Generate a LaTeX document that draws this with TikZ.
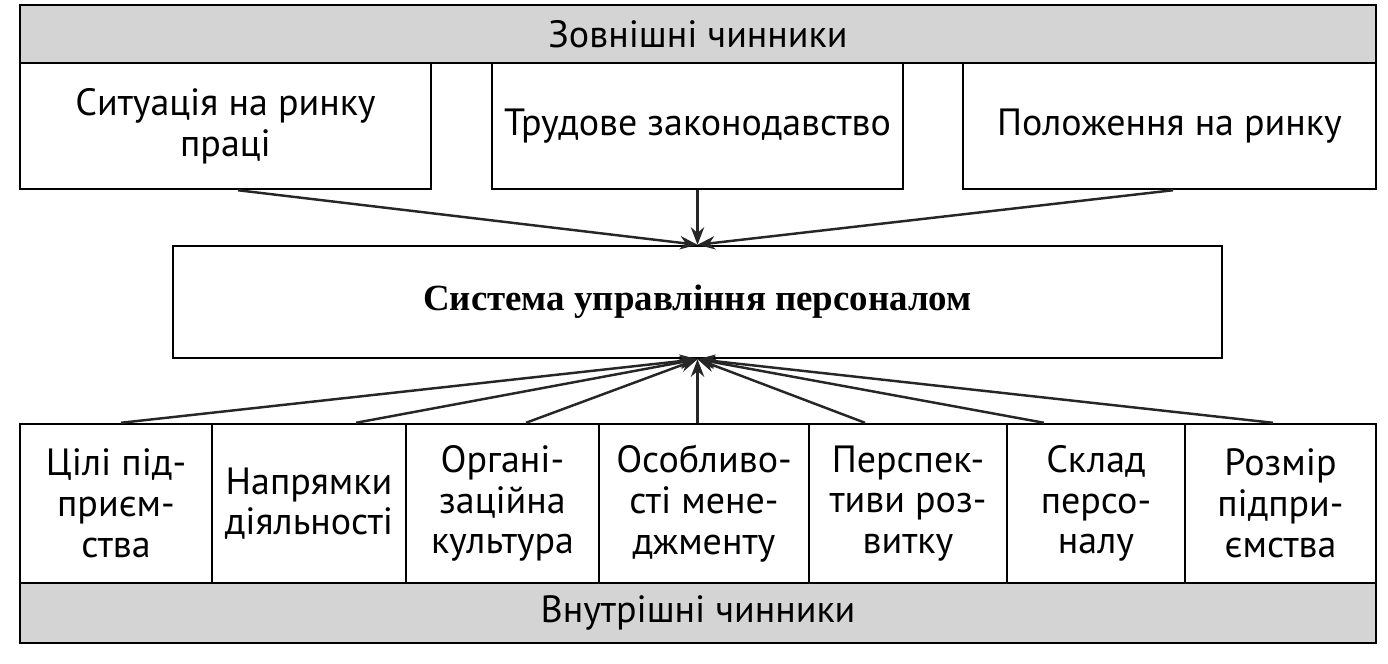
\documentclass[tikz,border=0pt]{standalone}
\usepackage{fontspec}
\setmainfont{PT Sans}
\newfontfamily\midfont{Liberation Serif}
\usetikzlibrary{arrows.meta}

\tikzset{
  box/.style={draw,line width=0.7pt,fill=white,inner sep=0pt,align=center,
    font=\fontsize{10.8}{11.6}\selectfont},
  band/.style={draw,line width=0.7pt,fill=black!17,inner sep=0pt,
    font=\fontsize{10.8}{11.6}\selectfont},
  arr/.style={line width=0.7pt,draw=black!85,fill=black!75,
    -{Stealth[length=5pt,width=3.8pt]}}
}

\begin{document}
\begin{tikzpicture}[y=-1cm]
  \useasboundingbox (0,0) rectangle (13.88,6.63);
  % bands
  \node[band,minimum width=13.56cm,minimum height=0.58cm] (ext) at (6.98,0.34) {Зовнішні чинники};
  \node[band,minimum width=13.56cm,minimum height=0.60cm] (int) at (6.98,6.13) {Внутрішні чинники};
  % external factors
  \node[box,minimum width=4.11cm,minimum height=1.26cm] (t1) at (2.255,1.26) {Ситуація на ринку\\праці};
  \node[box,minimum width=4.11cm,minimum height=1.26cm] (t2) at (6.975,1.26) {Трудове законодавство};
  \node[box,minimum width=4.13cm,minimum height=1.26cm] (t3) at (11.695,1.26) {Положення на ринку};
  % system
  \node[box,minimum width=10.49cm,minimum height=1.12cm,font=\midfont\bfseries\fontsize{10.5}{12}\selectfont] (mid) at (6.975,3.02) {Система управління персоналом};
  % internal factors
  \foreach \n/\x/\w/\t in {b1/1.16/1.92/{Цілі під-\\приєм-\\ства},
                         b2/3.09/1.94/{Напрямки\\діяльності},
                         b3/5.025/1.93/{Органі-\\заційна\\культура},
                         b4/7.04/2.10/{Особливо-\\сті мене-\\джменту},
                         b5/9.08/1.98/{Перспек-\\тиви роз-\\витку},
                         b6/10.96/1.78/{Склад\\персо-\\налу},
                         b7/12.805/1.91/{Розмір\\підпри-\\ємства}}
    \node[box,minimum width=\w cm,minimum height=1.59cm] (\n) at (\x,5.035) {\t};
  % arrows
  \foreach \n/\dx in {t1/0.125,t2/0,t3/0.035}
    \draw[arr] ([xshift=\dx cm]\n.south) -- (mid.north);
  \foreach \n/\dx in {b1/0.05,b2/0.47,b3/0.235,b5/-0.43,b6/-0.52,b7/-0.075}
    \draw[arr] ([xshift=\dx cm]\n.north) -- (mid.south);
  \draw[arr] (mid.south |- b4.north) -- (mid.south);
\end{tikzpicture}
\end{document}
